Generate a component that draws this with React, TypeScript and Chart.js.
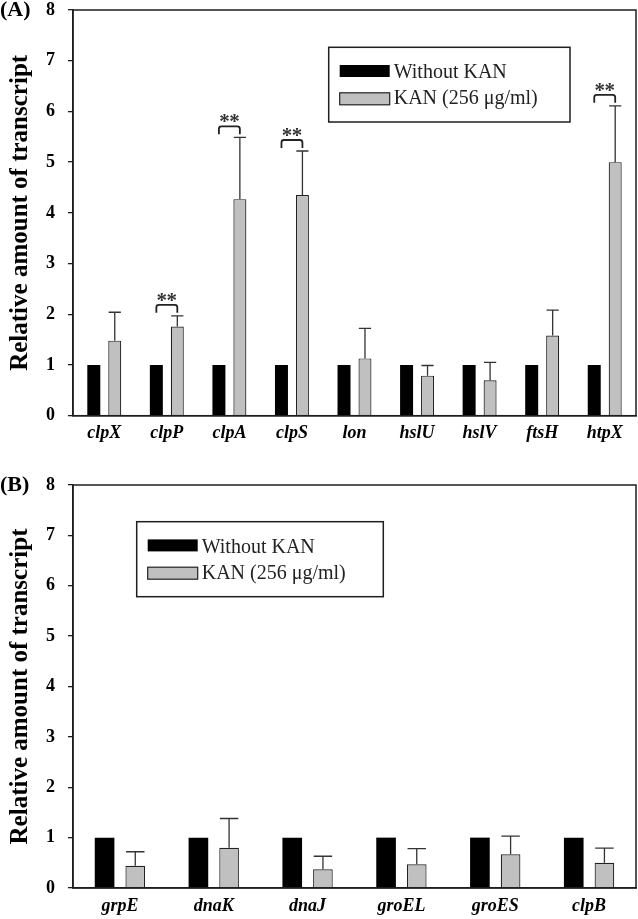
import React, { useEffect, useRef } from 'react';
import { Chart, registerables } from 'chart.js';

Chart.register(...registerables);

// ---------- data ----------
const seriesLabels = ['Without KAN', 'KAN (256 μg/ml)'];
const yTicks = [0, 1, 2, 3, 4, 5, 6, 7, 8];

const genesA = ['clpX', 'clpP', 'clpA', 'clpS', 'lon', 'hslU', 'hslV', 'ftsH', 'htpX'];
const withoutKanA = [1, 1, 1, 1, 1, 1, 1, 1, 1];
const kanA = [1.48, 1.76, 4.27, 4.35, 1.13, 0.79, 0.7, 1.58, 5.0];
const kanSdA = [0.56, 0.21, 1.22, 0.87, 0.59, 0.2, 0.35, 0.5, 1.11];
const sigA = ['', '**', '**', '**', '', '', '', '', '**'];

const genesB = ['grpE', 'dnaK', 'dnaJ', 'groEL', 'groES', 'clpB'];
const withoutKanB = [1, 1, 1, 1, 1, 1];
const kanB = [0.44, 0.8, 0.37, 0.47, 0.67, 0.5];
const kanSdB = [0.28, 0.58, 0.26, 0.31, 0.36, 0.29];
const sigB = ['', '', '', '', '', ''];

const FAMILY = "'Liberation Serif', 'Times New Roman', Times, serif";
const GRAY = '#c0c0c0';
const INK = '#1e1e1e';

type PanelProps = {
  panel: string;
  labels: string[];
  base: number[];
  kan: number[];
  sd: number[];
  sig: string[];
  height: number;
  top: number;
  xHeight: number;
  xPad: number;
  catPct: number;
  barPct: number;
  legendBox: { x: number; y: number; w: number; h: number };
};

function Panel(p: PanelProps) {
  const ref = useRef<HTMLCanvasElement | null>(null);
  useEffect(() => {
    if (!ref.current) return;
    const extras = {
      id: 'panelExtras',
      afterDatasetsDraw(chart: any) {
        const ctx = chart.ctx as CanvasRenderingContext2D;
        const { left, right, top, bottom } = chart.chartArea;
        const ys = chart.scales.y;
        const m0 = chart.getDatasetMeta(0);
        const m1 = chart.getDatasetMeta(1);
        ctx.save();
        // error bars + significance brackets
        m1.data.forEach((bar: any, i: number) => {
          const yE = ys.getPixelForValue(p.kan[i] + p.sd[i]);
          const half = bar.width * 0.47;
          ctx.strokeStyle = '#333';
          ctx.lineWidth = 1.3;
          ctx.beginPath();
          ctx.moveTo(bar.x, bar.y);
          ctx.lineTo(bar.x, yE);
          ctx.moveTo(bar.x - half, yE);
          ctx.lineTo(bar.x + half, yE);
          ctx.stroke();
          if (p.sig[i]) {
            const x1 = m0.data[i].x;
            const x2 = bar.x;
            const yt = yE - 11;
            const yl = yt + 8;
            ctx.lineWidth = 1.8;
            ctx.strokeStyle = '#222';
            ctx.beginPath();
            ctx.moveTo(x1, yl);
            ctx.lineTo(x1, yt + 2.5);
            ctx.quadraticCurveTo(x1, yt, x1 + 2.5, yt);
            ctx.lineTo(x2 - 2.5, yt);
            ctx.quadraticCurveTo(x2, yt, x2, yt + 2.5);
            ctx.lineTo(x2, yl);
            ctx.stroke();
            ctx.fillStyle = '#333';
            ctx.font = `bold 21px ${FAMILY}`;
            ctx.textAlign = 'center';
            ctx.textBaseline = 'alphabetic';
            const cx = (x1 + x2) / 2;
            ctx.fillText('*', cx - 5, yt + 2);
            ctx.fillText('*', cx + 5, yt + 2);
          }
        });
        // frame
        ctx.strokeStyle = INK;
        ctx.lineWidth = 1.5;
        ctx.strokeRect(left, top, right - left, bottom - top);
        // legend
        const b = p.legendBox;
        ctx.lineWidth = 1.5;
        ctx.strokeStyle = INK;
        ctx.strokeRect(b.x, b.y, b.w, b.h);
        const sx = b.x + 11;
        const sw = 50;
        const sh = 12;
        ctx.fillStyle = '#000';
        ctx.fillRect(sx, b.y + 17.7, sw, sh);
        ctx.fillStyle = GRAY;
        ctx.fillRect(sx, b.y + 45.5, sw, sh);
        ctx.lineWidth = 1.2;
        ctx.strokeStyle = '#222';
        ctx.strokeRect(sx, b.y + 45.5, sw, sh);
        ctx.fillStyle = '#222';
        ctx.font = `20px ${FAMILY}`;
        ctx.textAlign = 'left';
        ctx.textBaseline = 'alphabetic';
        ctx.fillText(seriesLabels[0], sx + sw + 4, b.y + 31);
        ctx.fillText(seriesLabels[1], sx + sw + 4, b.y + 57);
        // panel label
        ctx.fillStyle = '#000';
        ctx.font = `bold 22px ${FAMILY}`;
        ctx.textBaseline = 'middle';
        ctx.fillText(p.panel, 0, top);
        ctx.restore();
      },
    };
    const chart = new Chart(ref.current, {
      type: 'bar',
      data: {
        labels: p.labels,
        datasets: [
          {
            label: seriesLabels[0],
            data: p.base,
            backgroundColor: '#000',
            borderColor: '#000',
            borderWidth: 0,
            categoryPercentage: p.catPct,
            barPercentage: p.barPct,
          },
          {
            label: seriesLabels[1],
            data: p.kan,
            backgroundColor: GRAY,
            borderColor: '#222',
            borderWidth: 1.2,
            categoryPercentage: p.catPct,
            barPercentage: p.barPct,
          },
        ],
      },
      options: {
        responsive: false,
        animation: false,
        layout: { padding: { top: p.top, right: 2, left: 0, bottom: 0 } },
        plugins: { legend: { display: false }, tooltip: { enabled: false } },
        scales: {
          x: {
            ticks: {
              color: '#000',
              padding: p.xPad,
              font: { family: FAMILY, size: 18, weight: 'bold', style: 'italic' },
            },
            grid: { display: false, drawTicks: false, tickLength: 0 },
            border: { display: true, color: INK, width: 1.5 },
            afterFit: (s: any) => {
              s.height = p.xHeight;
              s.paddingLeft = 0;
              s.paddingRight = 0;
            },
          },
          y: {
            min: 0,
            max: 8,
            afterBuildTicks: (s: any) => {
              s.ticks = yTicks.map((v) => ({ value: v }));
            },
            ticks: {
              color: '#000',
              padding: 13,
              font: { family: FAMILY, size: 18, weight: 'bold' },
            },
            grid: { drawOnChartArea: false, drawTicks: true, tickLength: 5, color: INK, lineWidth: 1.3 },
            border: { display: true, color: INK, width: 1.5 },
            title: {
              display: true,
              text: 'Relative amount of transcript',
              color: '#000',
              font: { family: FAMILY, size: 25, weight: 'bold' },
              padding: { top: 6, bottom: 0 },
            },
            afterFit: (s: any) => {
              s.width = 73;
              s.paddingTop = 0;
              s.paddingBottom = 0;
            },
          },
        },
      },
      plugins: [extras],
    } as any);
    return () => chart.destroy();
  }, []);
  return <canvas ref={ref} width={638} height={p.height} style={{ display: 'block' }} />;
}

export default function App() {
  return (
    <div style={{ position: 'absolute', left: 0, top: 0, width: 638, height: 919, background: '#fff' }}>
      <Panel
        panel="(A)"
        labels={genesA}
        base={withoutKanA}
        kan={kanA}
        sd={kanSdA}
        sig={sigA}
        height={460}
        top={10}
        xHeight={44.3}
        xPad={7}
        catPct={0.67}
        barPct={0.62}
        legendBox={{ x: 328.7, y: 47.3, w: 241.3, h: 74.7 }}
      />
      <Panel
        panel="(B)"
        labels={genesB}
        base={withoutKanB}
        kan={kanB}
        sd={kanSdB}
        sig={sigB}
        height={459}
        top={25}
        xHeight={31}
        xPad={8}
        catPct={0.654}
        barPct={0.64}
        legendBox={{ x: 136.7, y: 61.7, w: 246.6, h: 75 }}
      />
    </div>
  );
}
